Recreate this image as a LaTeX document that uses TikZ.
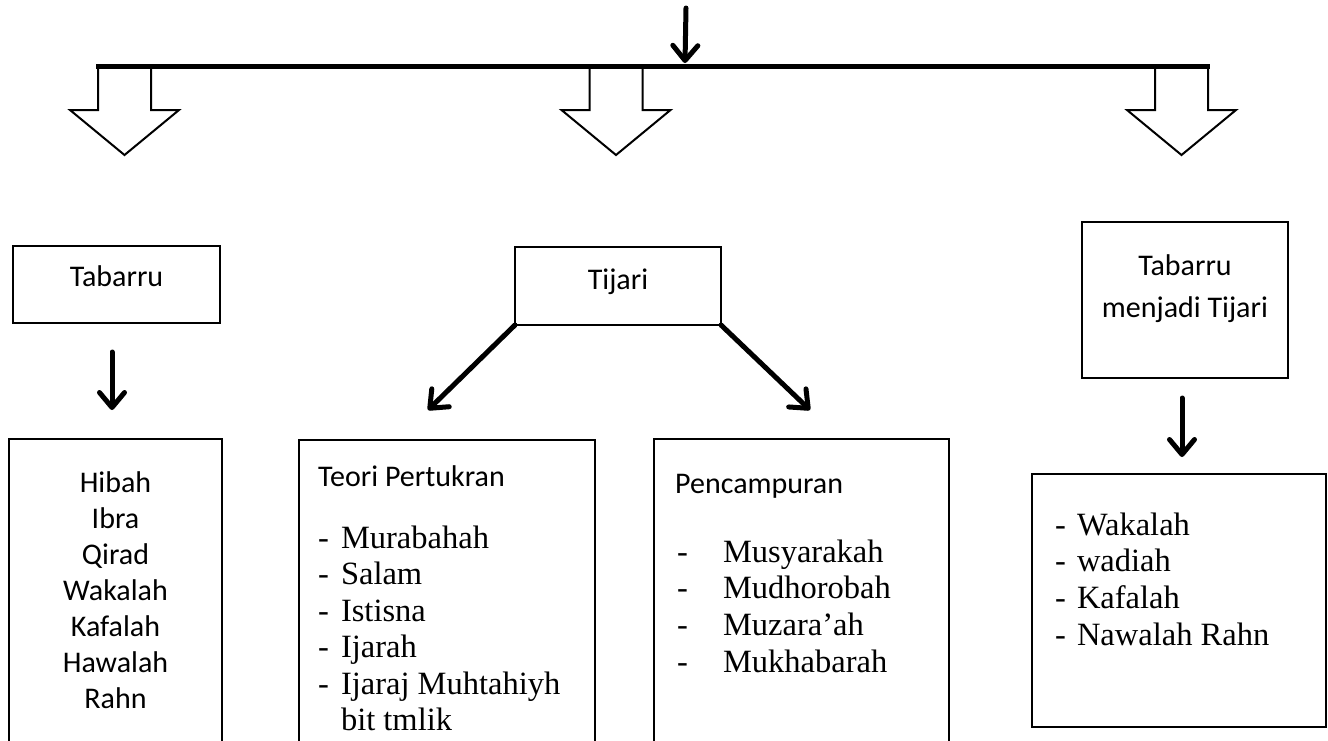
\documentclass[tikz,border=0pt]{standalone}
\usepackage{fontspec}
\setmainfont{Liberation Serif}
\newfontfamily\calibri{Carlito}
\usetikzlibrary{arrows.meta}

\begin{document}
\begin{tikzpicture}[x=1pt,y=-1pt,
  box/.style={draw, line width=2.5pt, inner sep=0pt, outer sep=0pt, anchor=north west},
  sanstxt/.style={font=\calibri\fontsize{30}{36}\selectfont, inner sep=0pt, anchor=base},
  listtxt/.style={font=\fontsize{32.5}{36.5}\selectfont, inner sep=0pt, anchor=base west},
  flow/.style={line width=5pt, line cap=round,
    -{Straight Barb[length=15pt,width=25pt,line cap=round,line join=round]}},
  blockarrow/.style={draw, line width=2pt, fill=white, line join=miter},
  bar/.style={line width=5pt},
]
\useasboundingbox (0,0) rectangle (1328,740);
\clip (0,0) rectangle (1328,740);

% top input arrow and distribution bar
\coordinate (src) at (686,8);
\coordinate (hit) at (685,63);
\coordinate (barL) at (96,66);
\coordinate (barR) at (1210,66);

% hollow block arrows hanging from the bar
\foreach \c in {124.5,616,1181.5}{
  \draw[blockarrow] ({\c-26.5},66) -- ({\c-26.5},110) -- ({\c-54.5},110)
    -- (\c,155) -- ({\c+54.5},110) -- ({\c+26.5},110) -- ({\c+26.5},66);
}
\draw[bar] (barL) -- (barR);
\draw[flow] (src) -- (hit);

% category boxes
\node[box, minimum width=207pt, minimum height=77pt] (tab) at (13,246) {};
\node[box, minimum width=206pt, minimum height=78pt] (tij) at (515,247) {};
\node[box, minimum width=206pt, minimum height=156pt] (mj) at (1082,222) {};

\node[sanstxt] (tabtxt) at (116.5,286) {Tabarru};
\node[sanstxt] (tijtxt) at (618,289) {Tijari};
\node[sanstxt, font=\calibri\fontsize{30}{42}\selectfont] (mjtxt) at (1185,275)
  {\begin{tabular}[t]{@{}c@{}}Tabarru\\menjadi Tijari\end{tabular}};

% content boxes
\node[box, minimum width=213pt, minimum height=330pt] (hibah) at (9,439) {};
\node[box, minimum width=296pt, minimum height=330pt] (teori) at (299,440) {};
\node[box, minimum width=295pt, minimum height=330pt] (penc) at (654,439) {};
\node[box, minimum width=294pt, minimum height=253pt] (rb) at (1032,474) {};

\node[sanstxt] (hibahtxt) at (115.5,492)
  {\begin{tabular}[t]{@{}c@{}}Hibah\\Ibra\\Qirad\\Wakalah\\Kafalah\\Hawalah\\Rahn\end{tabular}};

\node[sanstxt, anchor=base west] (teorihead) at (318,486) {Teori Pertukran};
\node[listtxt] (teorilist) at (318,548)
  {\begin{tabular}[t]{@{}l@{\hspace{12pt}}l@{}}
    - & Murabahah\\ - & Salam\\ - & Istisna\\ - & Ijarah\\ - & Ijaraj Muhtahiyh\\ & bit tmlik
  \end{tabular}};

\node[sanstxt, anchor=base west] (pench) at (675,493) {Pencampuran};
\node[listtxt, font=\fontsize{32.5}{36.7}\selectfont] (penclist) at (677,562)
  {\begin{tabular}[t]{@{}l@{\hspace{35pt}}l@{}}
    - & Musyarakah\\ - & Mudhorobah\\ - & Muzara'ah\\ - & Mukhabarah
  \end{tabular}};

\node[listtxt, font=\fontsize{32.5}{36.7}\selectfont] (rblist) at (1055,535)
  {\begin{tabular}[t]{@{}l@{\hspace{11pt}}l@{}}
    - & Wakalah\\ - & wadiah\\ - & Kafalah\\ - & Nawalah Rahn
  \end{tabular}};

% connectors between boxes
\coordinate (teoritip) at (428,410);
\coordinate (penctip) at (810,410);
\draw[flow, shorten <=29pt, shorten >=29pt] ([xshift=-4.5pt]tab.south) -- ([xshift=-3.5pt]hibah.north);
\draw[flow] (tij.south west) -- (teoritip);
\draw[flow] (tij.south east) -- (penctip);
\draw[flow, shorten <=20pt, shorten >=17pt] ([xshift=-3pt]mj.south) -- ([xshift=-3pt]mj.south |- rb.north);
\end{tikzpicture}
\end{document}
